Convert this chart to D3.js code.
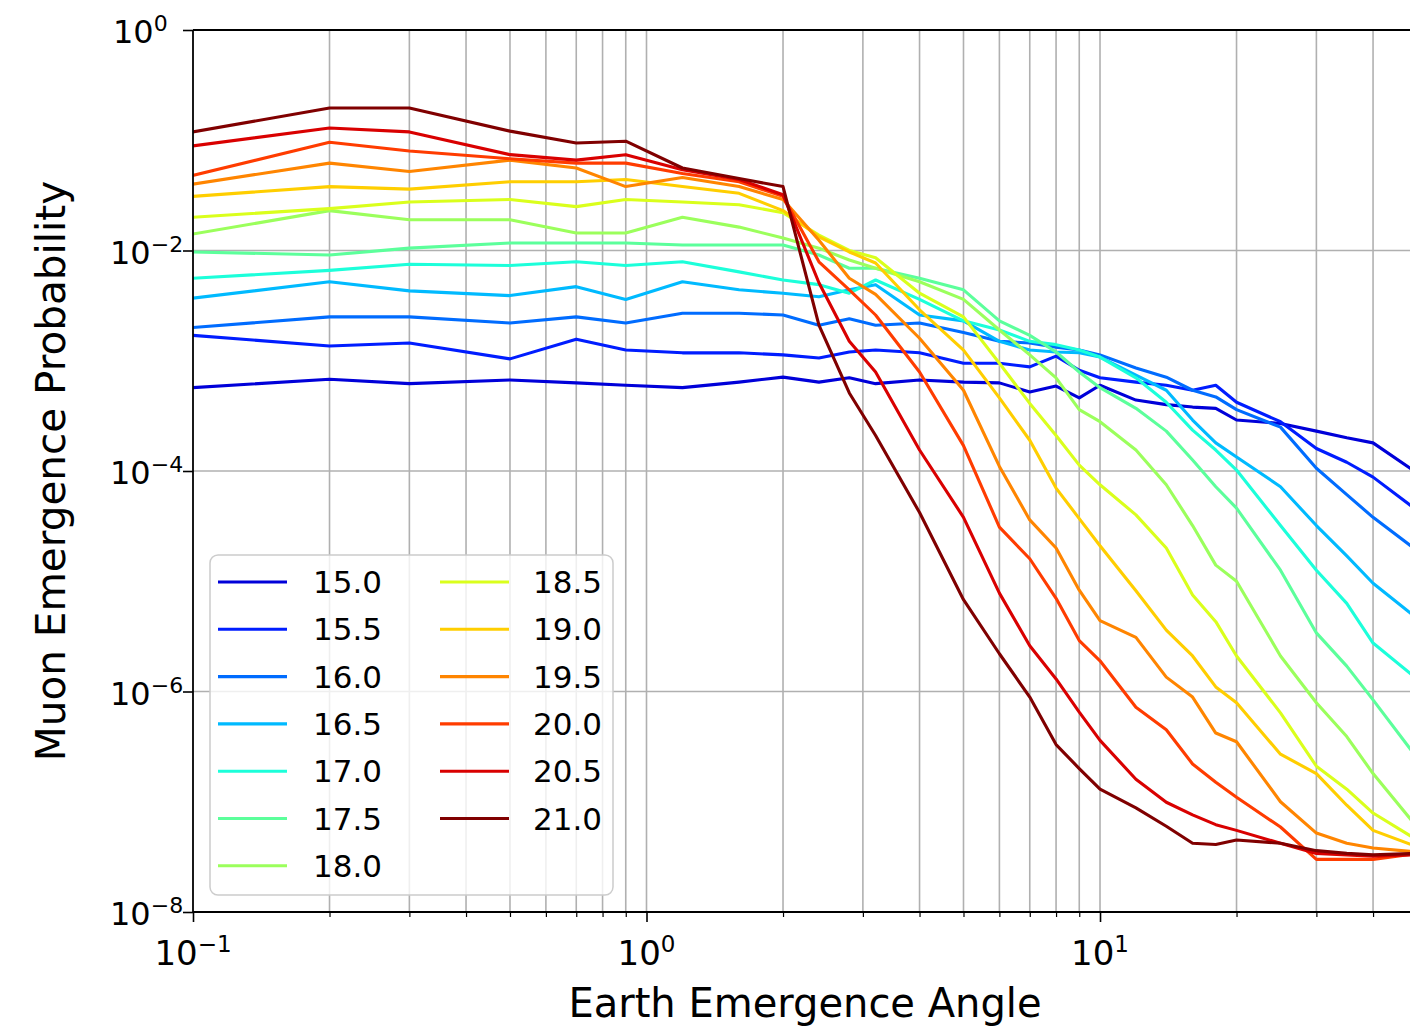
<!DOCTYPE html>
<html>
<head>
<meta charset="utf-8">
<script src="https://cdn.jsdelivr.net/npm/d3@7"></script>
<style>
  html, body { margin: 0; padding: 0; background: #ffffff; }
  svg { display: block; font-family: "DejaVu Sans", sans-serif; }
</style>
</head>
<body>
<svg id="chart" width="1410" height="1027"></svg>
<script>
// Earth emergence angle (degrees) at which each curve is sampled
const angles = [0.1, 0.2, 0.3, 0.5, 0.7, 0.9, 1.2, 1.6, 2, 2.4, 2.8, 3.2, 4, 5, 6, 7, 8, 9, 10,
                12, 14, 16, 18, 20, 25, 30, 35, 40, 50];

// Curve labels (log10 of energy)
const energies = ["15.0", "15.5", "16.0", "16.5", "17.0", "17.5", "18.0",
                  "18.5", "19.0", "19.5", "20.0", "20.5", "21.0"];

// Muon emergence probability per energy, one value per angle
const p150 = [5.7e-4, 6.8e-4, 6.2e-4, 6.7e-4, 6.3e-4, 6.0e-4, 5.7e-4, 6.4e-4, 7.1e-4, 6.4e-4, 7.0e-4, 6.2e-4, 6.7e-4, 6.4e-4, 6.3e-4, 5.2e-4, 5.9e-4, 4.6e-4, 6.0e-4, 4.4e-4, 4.0e-4, 3.8e-4, 3.7e-4, 2.9e-4, 2.7e-4, 2.3e-4, 2.0e-4, 1.8e-4, 9.6e-5];
const p155 = [1.7e-3, 1.36e-3, 1.45e-3, 1.04e-3, 1.57e-3, 1.25e-3, 1.18e-3, 1.18e-3, 1.13e-3, 1.06e-3, 1.2e-3, 1.25e-3, 1.18e-3, 9.5e-4, 9.5e-4, 8.8e-4, 1.1e-3, 8.2e-4, 7.0e-4, 6.4e-4, 6.0e-4, 5.4e-4, 6.0e-4, 4.2e-4, 2.8e-4, 1.6e-4, 1.2e-4, 8.8e-5, 4.4e-5];
const p160 = [2.0e-3, 2.5e-3, 2.5e-3, 2.2e-3, 2.5e-3, 2.2e-3, 2.7e-3, 2.7e-3, 2.6e-3, 2.1e-3, 2.4e-3, 2.1e-3, 2.2e-3, 1.8e-3, 1.5e-3, 1.45e-3, 1.33e-3, 1.25e-3, 1.13e-3, 8.6e-4, 7.1e-4, 5.4e-4, 4.7e-4, 3.6e-4, 2.5e-4, 1.06e-4, 6.1e-5, 3.8e-5, 1.9e-5];
const p165 = [3.7e-3, 5.2e-3, 4.3e-3, 3.9e-3, 4.7e-3, 3.6e-3, 5.2e-3, 4.4e-3, 4.1e-3, 3.8e-3, 4.4e-3, 4.9e-3, 2.6e-3, 2.3e-3, 1.5e-3, 1.25e-3, 1.2e-3, 1.18e-3, 1.08e-3, 7.4e-4, 5.4e-4, 2.9e-4, 1.8e-4, 1.34e-4, 7.2e-5, 3.2e-5, 1.7e-5, 9.6e-6, 4.6e-6];
const p170 = [5.6e-3, 6.6e-3, 7.5e-3, 7.3e-3, 7.9e-3, 7.3e-3, 7.9e-3, 6.4e-3, 5.4e-3, 4.9e-3, 4.1e-3, 5.4e-3, 3.6e-3, 2.3e-3, 1.9e-3, 1.5e-3, 1.4e-3, 1.25e-3, 1.08e-3, 7.0e-4, 4.2e-4, 2.35e-4, 1.55e-4, 1.02e-4, 3.2e-5, 1.26e-5, 6.3e-6, 2.75e-6, 1.3e-6];
const p175 = [9.7e-3, 9.1e-3, 1.05e-2, 1.17e-2, 1.17e-2, 1.17e-2, 1.12e-2, 1.12e-2, 1.12e-2, 9.1e-3, 6.9e-3, 6.9e-3, 5.6e-3, 4.4e-3, 2.3e-3, 1.7e-3, 1.2e-3, 7.9e-4, 5.7e-4, 3.7e-4, 2.3e-4, 1.26e-4, 7.2e-5, 4.6e-5, 1.26e-5, 3.4e-6, 1.7e-6, 8.4e-7, 2.5e-7];
const p180 = [1.41e-2, 2.3e-2, 1.9e-2, 1.9e-2, 1.44e-2, 1.44e-2, 2.0e-2, 1.63e-2, 1.3e-2, 1.05e-2, 8.2e-3, 6.9e-3, 5.2e-3, 3.6e-3, 1.9e-3, 1.13e-3, 7.0e-4, 3.6e-4, 2.8e-4, 1.55e-4, 7.5e-5, 3.2e-5, 1.4e-5, 1.0e-5, 2.1e-6, 7.9e-7, 3.9e-7, 1.8e-7, 5.9e-8];
const p185 = [2.0e-2, 2.4e-2, 2.75e-2, 2.9e-2, 2.5e-2, 2.9e-2, 2.75e-2, 2.6e-2, 2.2e-2, 1.38e-2, 1.0e-2, 8.6e-3, 4.1e-3, 2.5e-3, 9.5e-4, 4.1e-4, 2.1e-4, 1.13e-4, 7.5e-5, 4.0e-5, 2.0e-5, 7.5e-6, 4.3e-6, 2.1e-6, 6.4e-7, 2.1e-7, 1.3e-7, 7.9e-8, 4.5e-8];
const p190 = [3.1e-2, 3.8e-2, 3.6e-2, 4.2e-2, 4.2e-2, 4.4e-2, 3.8e-2, 3.3e-2, 2.3e-2, 1.33e-2, 9.7e-3, 7.7e-3, 2.9e-3, 1.25e-3, 4.6e-4, 1.9e-4, 7.0e-5, 3.7e-5, 2.1e-5, 8.2e-6, 3.6e-6, 2.1e-6, 1.1e-6, 7.9e-7, 2.7e-7, 1.8e-7, 9.3e-8, 5.5e-8, 3.9e-8];
const p195 = [4.0e-2, 6.2e-2, 5.2e-2, 6.6e-2, 5.6e-2, 3.8e-2, 4.6e-2, 3.8e-2, 2.9e-2, 1.24e-2, 5.6e-3, 4.0e-3, 1.6e-3, 5.4e-4, 1.1e-4, 3.6e-5, 2.0e-5, 8.3e-6, 4.4e-6, 3.1e-6, 1.35e-6, 8.9e-7, 4.2e-7, 3.5e-7, 1.0e-7, 5.2e-8, 4.2e-8, 3.8e-8, 3.5e-8];
const p200 = [4.8e-2, 9.6e-2, 8.0e-2, 6.8e-2, 6.2e-2, 6.2e-2, 5.0e-2, 4.2e-2, 3.1e-2, 7.9e-3, 4.4e-3, 2.6e-3, 7.9e-4, 1.7e-4, 3.1e-5, 1.6e-5, 7.0e-6, 2.9e-6, 1.9e-6, 7.2e-7, 4.5e-7, 2.2e-7, 1.5e-7, 1.1e-7, 5.9e-8, 3.0e-8, 3.0e-8, 3.0e-8, 3.4e-8];
const p205 = [8.9e-2, 1.29e-1, 1.19e-1, 7.4e-2, 6.6e-2, 7.4e-2, 5.4e-2, 4.4e-2, 3.2e-2, 5.1e-3, 1.5e-3, 7.9e-4, 1.55e-4, 3.8e-5, 7.8e-6, 2.6e-6, 1.3e-6, 6.5e-7, 3.6e-7, 1.6e-7, 9.9e-8, 7.6e-8, 6.2e-8, 5.5e-8, 4.2e-8, 3.4e-8, 3.3e-8, 3.2e-8, 3.3e-8];
const p210 = [1.19e-1, 1.96e-1, 1.96e-1, 1.21e-1, 9.45e-2, 9.8e-2, 5.6e-2, 4.5e-2, 3.8e-2, 2.1e-3, 5.1e-4, 2.1e-4, 4.2e-5, 6.8e-6, 2.2e-6, 8.9e-7, 3.3e-7, 2.0e-7, 1.3e-7, 8.8e-8, 6.0e-8, 4.2e-8, 4.1e-8, 4.5e-8, 4.2e-8, 3.6e-8, 3.4e-8, 3.3e-8, 3.4e-8];

// Axis tick values
const xMajorTicks = [0.1, 1, 10];
const yMajorTicks = [1, 1e-2, 1e-4, 1e-6, 1e-8];
const xMinorTicks = [0.2, 0.3, 0.4, 0.5, 0.6, 0.7, 0.8, 0.9, 2, 3, 4, 5, 6, 7, 8, 9, 20, 30, 40];

const xLabel = "Earth Emergence Angle";
const yLabel = "Muon Emergence Probability";

const seriesValues = [p150, p155, p160, p165, p170, p175, p180, p185, p190, p195, p200, p205, p210];

// matplotlib "jet" colormap, piecewise linear segments
const jetSeg = {
  r: [[0, 0], [0.35, 0], [0.66, 1], [0.89, 1], [1, 0.5]],
  g: [[0, 0], [0.125, 0], [0.375, 1], [0.64, 1], [0.91, 0], [1, 0]],
  b: [[0, 0.5], [0.11, 1], [0.34, 1], [0.65, 0], [1, 0]]
};
function seg(pts, t) {
  for (let i = 1; i < pts.length; i++) {
    if (t <= pts[i][0]) {
      const [x0, y0] = pts[i - 1], [x1, y1] = pts[i];
      return y0 + (y1 - y0) * (t - x0) / (x1 - x0);
    }
  }
  return pts[pts.length - 1][1];
}
function jet(t) {
  return d3.rgb(255 * seg(jetSeg.r, t), 255 * seg(jetSeg.g, t), 255 * seg(jetSeg.b, t)).formatHex();
}

// colours taken from the upper 13 of 14 evenly spaced jet samples
const series = energies.map((e, i) => ({
  label: e,
  color: jet((i + 1) / energies.length),
  points: angles.map((a, j) => [a, seriesValues[i][j]])
}));

// Layout
const plotL = 193, plotT = 30, plotB = 912, plotR = 1417;
const svg = d3.select("#chart");

const x = d3.scaleLog().domain([0.1, 50]).range([plotL, plotR]);
const y = d3.scaleLog().domain([1e-8, 1]).range([plotB, plotT]);

svg.append("rect").attr("width", 1410).attr("height", 1027).attr("fill", "#ffffff");

svg.append("defs").append("clipPath").attr("id", "plotClip")
  .append("rect").attr("x", plotL).attr("y", plotT).attr("width", plotR - plotL).attr("height", plotB - plotT);

// Grid
const grid = svg.append("g").attr("stroke", "#b0b0b0").attr("stroke-width", 1.6);
grid.selectAll("line.vx")
  .data(xMajorTicks.concat(xMinorTicks).filter(v => v > 0.1 && v < 50))
  .join("line")
  .attr("class", "vx")
  .attr("x1", d => x(d)).attr("x2", d => x(d))
  .attr("y1", plotT).attr("y2", plotB);
grid.selectAll("line.hy")
  .data(yMajorTicks.filter(v => v < 1 && v > 1e-8))
  .join("line")
  .attr("class", "hy")
  .attr("x1", plotL).attr("x2", plotR)
  .attr("y1", d => y(d)).attr("y2", d => y(d));

// Curves
const line = d3.line().x(d => x(d[0])).y(d => y(d[1]));
svg.append("g").attr("clip-path", "url(#plotClip)")
  .selectAll("path")
  .data(series)
  .join("path")
  .attr("d", d => line(d.points))
  .attr("fill", "none")
  .attr("stroke", d => d.color)
  .attr("stroke-width", 3.1)
  .attr("stroke-linejoin", "round")
  .attr("stroke-linecap", "square");

// Spines
const spines = svg.append("g").attr("stroke", "#000").attr("stroke-width", 1.8);
spines.append("line").attr("x1", plotL).attr("x2", plotL).attr("y1", plotT).attr("y2", plotB);
spines.append("line").attr("x1", plotL).attr("x2", plotR).attr("y1", plotB).attr("y2", plotB);
spines.append("line").attr("x1", plotL).attr("x2", plotR).attr("y1", plotT).attr("y2", plotT);

// Axes (tick marks)
function styleAxis(g, width) {
  g.select(".domain").remove();
  g.selectAll(".tick line").attr("stroke", "#000").attr("stroke-width", width);
  g.selectAll(".tick text").remove();
}
svg.append("g").attr("transform", `translate(0,${plotB})`)
  .call(d3.axisBottom(x).tickValues(xMajorTicks).tickSize(10).tickFormat(() => ""))
  .call(g => styleAxis(g, 1.6));
svg.append("g").attr("transform", `translate(0,${plotB})`)
  .call(d3.axisBottom(x).tickValues(xMinorTicks).tickSize(5).tickFormat(() => ""))
  .call(g => styleAxis(g, 1.2));
svg.append("g").attr("transform", `translate(${plotL},0)`)
  .call(d3.axisLeft(y).tickValues(yMajorTicks).tickSize(10).tickFormat(() => ""))
  .call(g => styleAxis(g, 1.6));

// Power-of-ten tick labels
function expText(v) {
  const e = Math.round(Math.log10(v));
  return e < 0 ? "\u2212" + Math.abs(e) : String(e);
}
function powLabel(sel, base, sup, rise) {
  sel.append("tspan").text("10");
  sel.append("tspan").attr("font-size", sup).attr("dy", -rise).text(d => expText(d));
}
svg.append("g").selectAll("text")
  .data(xMajorTicks)
  .join("text")
  .attr("x", d => x(d)).attr("y", 965)
  .attr("text-anchor", "middle")
  .attr("font-size", 34).attr("fill", "#000")
  .call(powLabel, 34, 23, 13);
svg.append("g").selectAll("text")
  .data(yMajorTicks)
  .join("text")
  .attr("x", d => d === 1 ? 113 : 110).attr("y", d => y(d) + 13)
  .attr("text-anchor", "start")
  .attr("font-size", 32).attr("fill", "#000")
  .call(powLabel, 32, 22, 12);

// Axis titles
svg.append("text")
  .attr("x", (plotL + plotR) / 2).attr("y", 1017)
  .attr("text-anchor", "middle").attr("font-size", 40).attr("fill", "#000")
  .text(xLabel);
svg.append("text")
  .attr("transform", `translate(65,${(plotT + plotB) / 2}) rotate(-90)`)
  .attr("text-anchor", "middle").attr("font-size", 40.5).attr("fill", "#000")
  .text(yLabel);

// Legend (two columns, filled column-wise)
const legend = svg.append("g");
legend.append("rect")
  .attr("x", 210).attr("y", 555).attr("width", 403).attr("height", 340)
  .attr("rx", 8).attr("ry", 8)
  .attr("fill", "#ffffff").attr("fill-opacity", 0.8)
  .attr("stroke", "#cccccc").attr("stroke-width", 1.5);
const perCol = 7, rowH = 47.3, row0 = 582;
const items = legend.selectAll("g.item")
  .data(series)
  .join("g")
  .attr("class", "item")
  .attr("transform", (d, i) => {
    const col = Math.floor(i / perCol), row = i % perCol;
    return `translate(${col === 0 ? 218 : 440},${row0 + row * rowH})`;
  });
items.append("line")
  .attr("x1", 0).attr("x2", 69).attr("y1", 0).attr("y2", 0)
  .attr("stroke", d => d.color).attr("stroke-width", 3.1);
items.append("text")
  .attr("x", (d, i) => Math.floor(i / perCol) === 0 ? 95 : 93)
  .attr("y", 0).attr("dy", "0.36em")
  .attr("font-size", 31).attr("fill", "#000")
  .text(d => d.label);
</script>
</body>
</html>
